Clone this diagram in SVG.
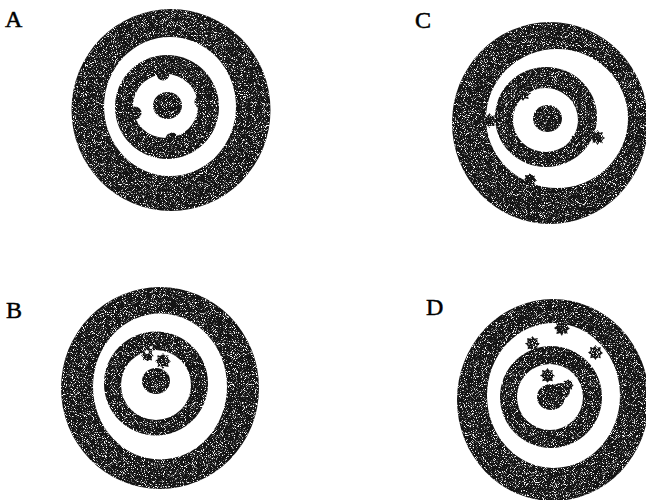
<svg xmlns="http://www.w3.org/2000/svg" xmlns:xlink="http://www.w3.org/1999/xlink" width="646" height="500" viewBox="0 0 646 500">
  <style>
    .dark { fill: #141414; }
    .light { fill: #ffffff; }
    .blob { fill: #141414; }
    .lbl { font-family: "Liberation Serif", "Times New Roman", serif; font-size: 24px; fill: #000; stroke: #000; stroke-width: 0.5; }
  </style>
  <defs>
    <filter id="grain" x="-5%" y="-5%" width="110%" height="110%" color-interpolation-filters="sRGB">
      <feTurbulence type="fractalNoise" baseFrequency="1.1" numOctaves="2" seed="7" result="n"/>
      <feColorMatrix in="n" type="matrix" values="0 0 0 0 1  0 0 0 0 1  0 0 0 0 1  7 0 0 0 -3.9" result="dots"/>
      <feComposite in="dots" in2="SourceAlpha" operator="in" result="d2"/>
      <feMerge><feMergeNode in="SourceGraphic"/><feMergeNode in="d2"/></feMerge>
    </filter>
    <symbol id="splat" viewBox="-8 -8 16 16" overflow="visible">
      <path d="M0,-8 L2,-5.2 L5.6,-5.8 L5,-2 L8,0.4 L5,2.6 L5.6,6 L1.8,5.2 L0,8 L-2,5.2 L-5.6,6 L-5,2.4 L-8,0 L-5.2,-2 L-5.8,-5.8 L-2,-5.2 Z" fill="#141414"/>
      <circle r="5.6" fill="#141414"/>
    </symbol>
  </defs>
  <rect width="646" height="500" fill="#fff"/>

  <g id="target-A" filter="url(#grain)">
    <ellipse class="dark" cx="171" cy="110" rx="99.5" ry="101"/>
    <ellipse class="light" cx="170" cy="106.5" rx="66" ry="69.5"/>
    <ellipse class="dark" cx="167" cy="107" rx="52" ry="52"/>
    <ellipse class="light" cx="165.5" cy="106" rx="32.5" ry="32"/>
    <ellipse class="dark" cx="167.5" cy="105.5" rx="14.5" ry="13.5"/>
    <circle class="blob" cx="163" cy="74" r="6.5"/>
    <circle class="blob" cx="201" cy="102" r="6.5"/>
    <circle class="blob" cx="135" cy="113" r="6.5"/>
    <circle class="blob" cx="172" cy="139" r="6.5"/>
  </g>
  <text class="lbl" x="5" y="27">A</text>

  <g id="target-C" filter="url(#grain)">
    <ellipse class="dark" cx="550" cy="123" rx="98" ry="101"/>
    <ellipse class="light" cx="557" cy="118.5" rx="71" ry="69.5"/>
    <ellipse class="dark" cx="546" cy="117" rx="51" ry="50"/>
    <ellipse class="light" cx="545.5" cy="120" rx="32.5" ry="32"/>
    <ellipse class="dark" cx="547.5" cy="118.5" rx="14.5" ry="13.5"/>
    <use xlink:href="#splat" x="515" y="85" width="16" height="16"/>
    <use xlink:href="#splat" x="482" y="113" width="15" height="15"/>
    <use xlink:href="#splat" x="590" y="130" width="15" height="15"/>
    <use xlink:href="#splat" x="570" y="134" width="12" height="12"/>
    <use xlink:href="#splat" x="523" y="173" width="14" height="14"/>
  </g>
  <text class="lbl" x="415" y="28">C</text>

  <g id="target-B" filter="url(#grain)">
    <ellipse class="dark" cx="160" cy="388" rx="99" ry="101"/>
    <ellipse class="light" cx="160" cy="386.5" rx="67" ry="73"/>
    <ellipse class="dark" cx="156" cy="383.5" rx="52" ry="52"/>
    <ellipse class="light" cx="156" cy="385" rx="35" ry="35"/>
    <ellipse class="dark" cx="156" cy="381" rx="14" ry="13"/>
    <use xlink:href="#splat" x="155" y="353" width="16" height="16"/>
    <use xlink:href="#splat" x="141" y="349" width="13" height="13"/>
    <circle cx="147" cy="352" r="2" fill="#fff"/>
    <circle cx="151" cy="347.5" r="1.6" fill="#fff"/>
  </g>
  <text class="lbl" x="6" y="318">B</text>

  <g id="target-D" filter="url(#grain)">
    <ellipse class="dark" cx="553" cy="400" rx="96" ry="101"/>
    <ellipse class="light" cx="553.5" cy="395.5" rx="66.5" ry="72.5"/>
    <ellipse class="dark" cx="551" cy="397" rx="51" ry="51"/>
    <ellipse class="light" cx="550" cy="397" rx="33" ry="33"/>
    <ellipse class="dark" cx="551" cy="397" rx="14" ry="13"/>
    <ellipse class="dark" cx="561" cy="391" rx="9" ry="8"/>
    <use xlink:href="#splat" x="554" y="320" width="16" height="16"/>
    <use xlink:href="#splat" x="525" y="336" width="15" height="15"/>
    <use xlink:href="#splat" x="588" y="345" width="15" height="15"/>
    <use xlink:href="#splat" x="540" y="368" width="15" height="15"/>
    <use xlink:href="#splat" x="562" y="379" width="12" height="12"/>
  </g>
  <text class="lbl" x="426" y="315">D</text>
</svg>
